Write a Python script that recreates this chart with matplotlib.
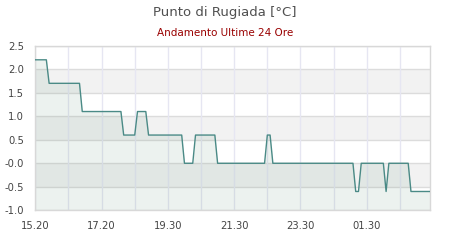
import matplotlib
matplotlib.use("Agg")
import matplotlib.pyplot as plt
import numpy as np

# dew point readings, one every 5 minutes (144 samples)
levels = [2.2, 1.7, 1.1, 0.6, 1.1, 0.6, 0.0, 0.6, 0.0, 0.6, 0.0, -0.6, 0.0, -0.6, 0.0, -0.6]
counts = [5, 12, 15, 5, 4, 13, 4, 8, 18, 2, 30, 2, 9, 1, 8, 8]
values = np.repeat(levels, counts)

tick_pos = [0, 24, 48, 72, 96, 120]
tick_labels = ["15.20", "17.20", "19.30", "21.30", "23.30", "01.30"]
y_ticks = [2.5, 2.0, 1.5, 1.0, 0.5, 0.0, -0.5, -1.0]
y_labels = ["2.5", "2.0", "1.5", "1.0", "0.5", "-0.0", "-0.5", "-1.0"]

fig = plt.figure(figsize=(4.5, 2.4), dpi=100)
ax = fig.add_axes([35.3 / 450, 1 - 210.3 / 240, 395 / 450, 164.6 / 240])

x = np.arange(len(values))
ax.set_xlim(0, len(values) - 1)
ax.set_ylim(-1.0, 2.5)

# alternating bands
for lo in [1.5, 0.5, -0.5]:
    ax.axhspan(lo, lo + 0.5, color="#f2f2f2", zorder=0, lw=0)
for yv in y_ticks:
    ax.axhline(yv, color="#dcdcdc", lw=1, zorder=1)
for xv in range(0, len(values), 12):
    ax.axvline(xv, color="#e6e6f2", lw=1, zorder=1)

ax.fill_between(x, values, -1.0, color="#6a9a80", alpha=0.12, lw=0, zorder=2)
ax.plot(x, values, color="#4a8a86", lw=1.0, zorder=3)

ax.set_xticks(tick_pos)
ax.set_xticklabels(tick_labels)
ax.set_yticks(y_ticks)
ax.set_yticklabels(y_labels)
ax.tick_params(length=0, labelsize=7.2, labelcolor="#444444")
ax.tick_params(axis="y", pad=8)
ax.tick_params(axis="x", pad=8)
for s in ax.spines.values():
    s.set_color("#d8d8d8")
    s.set_linewidth(1)

fig.text(0.5, 1 - 12.7 / 240, "Punto di Rugiada [°C]", ha="center", va="center",
         fontsize=9.5, color="#505050")
fig.text(0.5, 1 - 33.3 / 240, "Andamento Ultime 24 Ore", ha="center", va="center",
         fontsize=7.5, color="#990000")

fig.savefig("out.png", dpi=100)
